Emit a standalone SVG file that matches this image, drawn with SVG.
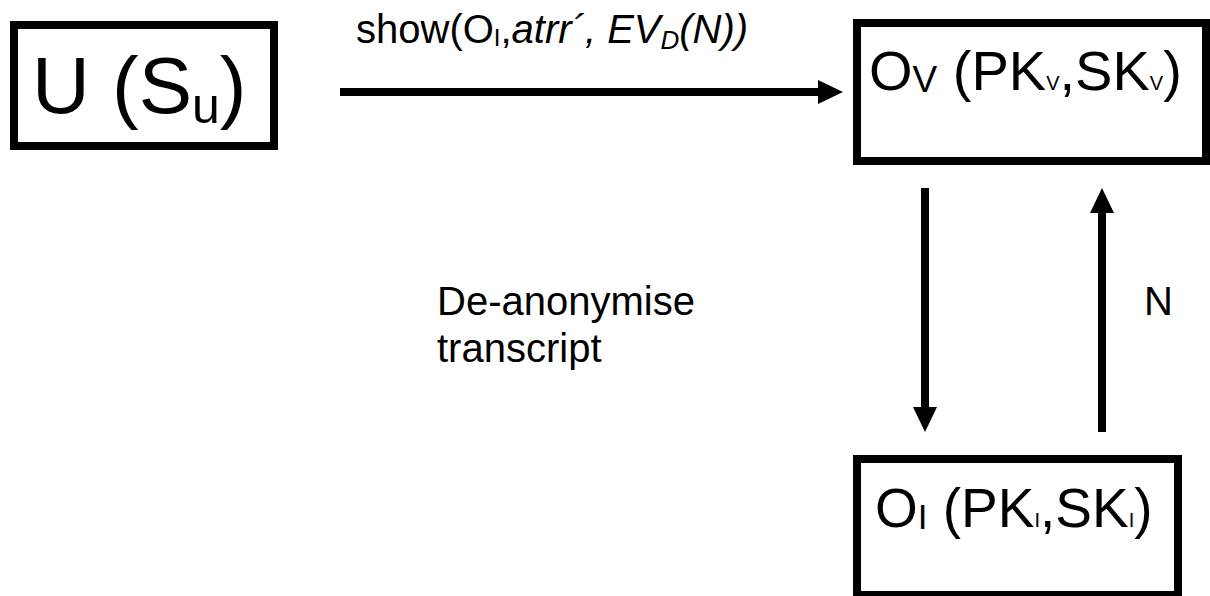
<svg xmlns="http://www.w3.org/2000/svg" width="1210" height="596" viewBox="0 0 1210 596">
  <style>
    .box { fill: #ffffff; stroke: #000000; stroke-width: 8; }
    .lbl { font-family: "Liberation Sans", Arial, sans-serif; fill: #000000; }
    .edge { stroke: #000000; stroke-width: 8; fill: none; }
  </style>
  <defs>
    <marker id="head" viewBox="0 0 25 24" markerUnits="userSpaceOnUse" markerWidth="25" markerHeight="24" refX="5" refY="12" orient="auto">
      <path d="M0,0 L25,12 L0,24 z" fill="#000000"/>
    </marker>
  </defs>
  <rect width="1210" height="596" fill="#ffffff"/>

  <!-- user -->
  <g id="node-user">
    <rect class="box" x="14" y="25" width="260" height="121"/>
    <text class="lbl" x="32" y="113" font-size="80">U (S<tspan font-size="50" dy="10">u</tspan><tspan dy="-10">)</tspan></text>
  </g>

  <!-- verifier -->
  <g id="node-verifier">
    <rect class="box" x="857" y="23" width="349" height="138"/>
    <text class="lbl" x="869" y="90" font-size="56">O<tspan font-size="37" dy="2">V</tspan><tspan dy="-2"> (PK</tspan><tspan font-size="20">V</tspan>,SK<tspan font-size="20">V</tspan>)</text>
  </g>

  <!-- issuer -->
  <g id="node-issuer">
    <rect class="box" x="857" y="459" width="321" height="136"/>
    <text class="lbl" x="875" y="527" font-size="55">O<tspan font-size="35" dy="2">I</tspan><tspan dy="-2"> (PK</tspan><tspan font-size="20">I</tspan>,SK<tspan font-size="20">I</tspan>)</text>
  </g>

  <!-- connectors -->
  <g id="connectors">
    <line class="edge" x1="340" y1="92" x2="823" y2="92" marker-end="url(#head)"/>
    <line class="edge" x1="925" y1="188" x2="925" y2="412" marker-end="url(#head)"/>
    <line class="edge" x1="1102" y1="432" x2="1102" y2="208" marker-end="url(#head)"/>
  </g>

  <!-- connector labels -->
  <g id="labels">
    <text class="lbl" x="356" y="43" font-size="40">show(O<tspan font-size="24" dy="3">I</tspan><tspan dy="-3">,</tspan><tspan font-style="italic">atrr´, EV</tspan><tspan font-style="italic" font-size="26" dy="6">D</tspan><tspan font-style="italic" dy="-6">(N))</tspan></text>
    <text class="lbl" x="437" y="315" font-size="40">De-anonymise</text>
    <text class="lbl" x="437" y="362" font-size="40">transcript</text>
    <text class="lbl" x="1144" y="315" font-size="40">N</text>
  </g>
</svg>
